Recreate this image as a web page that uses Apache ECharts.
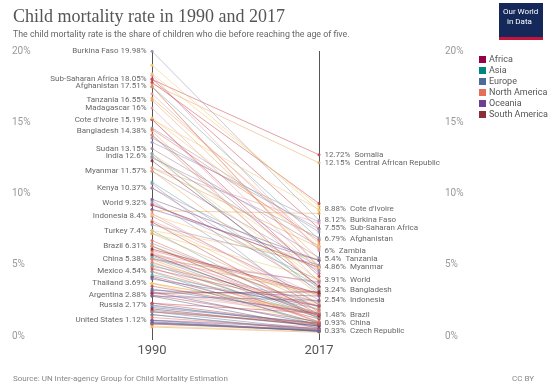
<!DOCTYPE html>
<html><head><meta charset="utf-8">
<script src="https://cdn.jsdelivr.net/npm/echarts@6/dist/echarts.min.js"></script>
<style>html,body{margin:0;padding:0;background:#fff}#c{width:549px;height:388px}</style>
</head><body><div id="c"></div>
<script>
const years = ["1990", "2017"];
const yTicks = [0, 5, 10, 15, 20];
const continents = ["Africa", "Asia", "Europe", "North America", "Oceania", "South America"];
const continentColors = ["#970046", "#00847E", "#4C6A9C", "#E56E5A", "#6D3E91", "#883039"];

const countries = ["Burkina Faso","Sub-Saharan Africa","Afghanistan","Tanzania","Madagascar","Cote d'Ivoire","Bangladesh","Sudan","India","Myanmar","Kenya","World","Indonesia","Turkey","Brazil","China","Mexico","Thailand","Argentina","Russia","United States","Somalia","Central African Republic","Zambia","Czech Republic",
"Ghana","Senegal","Togo","Benin","Uganda","Rwanda","Democratic Republic of Congo","Congo","Cameroon","Gabon","Lesotho","South Africa","Namibia","Botswana","Zimbabwe","Eritrea","Djibouti","Egypt","Morocco","Algeria","Tunisia","Libya","Gambia","Mauritania","Equatorial Guinea","Sao Tome and Principe","Comoros","Mauritius","Cape Verde","Burundi","Eswatini",
"Pakistan","Nepal","Bhutan","Cambodia","Laos","Yemen","Iraq","Iran","Vietnam","Philippines","Mongolia","Timor","Tajikistan","Uzbekistan","Turkmenistan","Kyrgyzstan","Kazakhstan","Saudi Arabia","Syria","Jordan","Sri Lanka","Malaysia","North Korea","Japan","South Korea","Azerbaijan","Georgia","Armenia",
"Germany","France","United Kingdom","Italy","Spain","Poland","Romania","Ukraine","Bulgaria","Albania","Moldova","Belarus","Serbia",
"Canada","Guatemala","Haiti","Honduras","Nicaragua","El Salvador","Dominican Republic","Panama","Cuba","Jamaica","Costa Rica",
"Papua New Guinea","Australia","New Zealand","Fiji","Solomon Islands","Vanuatu","Kiribati",
"Bolivia","Peru","Ecuador","Colombia","Venezuela","Paraguay","Chile","Uruguay","Guyana"];

const continentOf = ["Africa","Africa","Asia","Africa","Africa","Africa","Asia","Africa","Asia","Asia","Africa","World","Asia","Asia","South America","Asia","North America","Asia","South America","Europe","North America","Africa","Africa","Africa","Europe",
"Africa","Africa","Africa","Africa","Africa","Africa","Africa","Africa","Africa","Africa","Africa","Africa","Africa","Africa","Africa","Africa","Africa","Africa","Africa","Africa","Africa","Africa","Africa","Africa","Africa","Africa","Africa","Africa","Africa","Africa","Africa",
"Asia","Asia","Asia","Asia","Asia","Asia","Asia","Asia","Asia","Asia","Asia","Asia","Asia","Asia","Asia","Asia","Asia","Asia","Asia","Asia","Asia","Asia","Asia","Asia","Asia","Asia","Asia","Asia",
"Europe","Europe","Europe","Europe","Europe","Europe","Europe","Europe","Europe","Europe","Europe","Europe","Europe",
"North America","North America","North America","North America","North America","North America","North America","North America","North America","North America","North America",
"Oceania","Oceania","Oceania","Oceania","Oceania","Oceania","Oceania",
"South America","South America","South America","South America","South America","South America","South America","South America","South America"];

const rate1990 = [19.98,18.05,17.51,16.55,16.0,15.19,14.38,13.15,12.6,11.57,10.37,9.32,8.4,7.4,6.31,5.38,4.54,3.69,2.88,2.17,1.12,18.0,17.7,18.3,1.5,
12.8,14.1,14.6,17.8,17.5,15.2,18.4,9.2,13.6,9.2,8.8,5.7,7.2,5.4,7.8,15.2,11.8,8.6,8.0,4.9,5.5,4.2,16.7,11.8,19.0,10.4,12.5,2.3,6.3,17.0,7.4,
13.9,14.1,12.8,11.6,15.3,12.6,5.4,5.6,5.1,5.7,10.7,17.5,10.8,7.2,8.5,6.5,5.2,4.5,3.7,3.7,2.1,1.7,4.3,0.63,0.7,9.5,4.8,5.0,
0.85,0.9,0.93,1.0,1.1,1.7,3.1,2.0,1.8,4.1,3.3,1.5,2.8,
0.83,8.1,14.5,5.8,6.7,5.9,6.0,3.1,1.3,3.0,1.7,
8.9,0.92,1.1,2.8,4.0,3.2,9.6,
12.3,8.0,5.7,3.5,3.0,4.7,1.9,2.3,6.1];

const rate2017 = [8.12,7.55,6.79,5.4,4.6,8.88,3.24,6.3,3.9,4.86,4.6,3.91,2.54,1.2,1.48,0.93,1.34,0.9,1.0,0.72,0.66,12.72,12.15,6.0,0.33,
4.9,4.4,7.3,9.3,4.9,3.8,9.1,4.8,8.0,4.8,8.6,3.7,4.0,3.8,5.0,4.2,6.2,2.2,2.3,2.4,1.3,1.2,6.5,7.9,8.8,3.2,6.9,1.6,2.1,6.1,5.4,
7.5,3.4,3.0,2.9,6.3,5.5,3.0,1.5,2.1,2.8,1.6,4.8,3.4,2.2,4.8,2.0,1.0,0.7,1.7,1.6,0.9,0.8,1.9,0.26,0.3,2.2,1.0,1.3,
0.37,0.4,0.43,0.33,0.32,0.45,0.8,0.9,0.7,0.9,1.6,0.4,0.55,
0.5,2.8,6.7,1.8,1.8,1.5,2.9,1.6,0.5,1.5,0.9,
5.3,0.35,0.55,2.5,2.1,2.8,5.3,
3.5,1.5,1.4,1.5,3.1,2.1,0.7,0.8,3.0];

const labelled1990 = ["Burkina Faso","Sub-Saharan Africa","Afghanistan","Tanzania","Madagascar","Cote d'Ivoire","Bangladesh","Sudan","India","Myanmar","Kenya","World","Indonesia","Turkey","Brazil","China","Mexico","Thailand","Argentina","Russia","United States"];
const labelled2017 = ["Somalia","Central African Republic","Cote d'Ivoire","Burkina Faso","Sub-Saharan Africa","Afghanistan","Zambia","Tanzania","Myanmar","World","Bangladesh","Indonesia","Brazil","China","Czech Republic"];

const linePalettes = {
  "Africa": ["#9a8fae", "#c9424e", "#e9a35c", "#e39aa8", "#f0c870", "#a77aa0"],
  "Asia": ["#6aa7a5", "#e9a35c", "#f0c870", "#9a8fae", "#d98a7a"],
  "Europe": ["#4c6a9c", "#6a7fa8", "#5a5f80"],
  "North America": ["#e56e5a", "#e39aa8"],
  "Oceania": ["#7c5d9b"],
  "South America": ["#883039", "#c0505a"],
  "World": ["#9a8fae"]
};
const counters = {};

const series = countries.map((name, i) => {
  const cont = continentOf[i];
  const pal = linePalettes[cont];
  counters[cont] = (counters[cont] || 0);
  const color = pal[counters[cont] % pal.length];
  counters[cont]++;
  const lab = '#555';
  return {
    type: 'line', name: name, silent: true, z: 2,
    symbol: 'circle', symbolSize: 3, showSymbol: true,
    lineStyle: { width: 1, color: color, opacity: 0.5 },
    itemStyle: { color: color, opacity: 0.9 },
    emphasis: { disabled: true },
    data: [
      { value: rate1990[i], label: { show: labelled1990.includes(name), position: 'left', distance: 4, color: lab, fontSize: 8, fontFamily: 'Roboto',
        formatter: () => name + ' ' + rate1990[i] + '%' } },
      { value: rate2017[i], label: { show: labelled2017.includes(name), position: 'right', distance: 4, color: lab, fontSize: 8, fontFamily: 'Roboto',
        formatter: () => rate2017[i] + '%  ' + name } }
    ]
  };
});

// legend-only series
continents.forEach((c, k) => {
  series.push({ type: 'line', name: c, data: [], itemStyle: { color: continentColors[k] }, lineStyle: { color: continentColors[k] } });
});

const chart = echarts.init(document.getElementById('c'), null, { renderer: 'canvas' });
chart.setOption({
  animation: false,
  backgroundColor: '#fff',
  textStyle: { fontFamily: 'Roboto' },
  title: [
    { text: 'Child mortality rate in 1990 and 2017', left: 8, top: 3,
      textStyle: { fontFamily: 'Liberation Serif', fontWeight: 'normal', fontSize: 18, color: '#555' } },
    { text: 'The child mortality rate is the share of children who die before reaching the age of five.', left: 8, top: 25,
      textStyle: { fontFamily: 'Roboto', fontWeight: 'normal', fontSize: 8.8, color: '#666' } },
    { text: 'Source: UN Inter-agency Group for Child Mortality Estimation', left: 8, top: 370,
      textStyle: { fontFamily: 'Roboto', fontWeight: 'normal', fontSize: 8, color: '#888' } },
    { text: 'CC BY', right: 10, top: 370,
      textStyle: { fontFamily: 'Roboto', fontWeight: 'normal', fontSize: 8, color: '#888' } }
  ],
  legend: {
    data: continents, orient: 'vertical', left: 474, top: 50, itemGap: 2,
    icon: 'rect', itemWidth: 7, itemHeight: 7,
    textStyle: { fontSize: 9, color: '#555', fontFamily: 'Roboto', padding: [0, 0, 0, -2] },
    selectedMode: false
  },
  graphic: [
    { type: 'rect', left: 499, top: 3, shape: { width: 44, height: 34 }, style: { fill: '#14295a' } },
    { type: 'rect', left: 499, top: 37, shape: { width: 44, height: 3 }, style: { fill: '#c5143c' } },
    { type: 'text', left: 503, top: 7, style: { text: 'Our World\n  in Data', fill: '#fff', font: '8px Roboto', lineHeight: 10 } }
  ],
  grid: { left: 152, right: 230, top: 51, bottom: 52 },
  xAxis: {
    type: 'category', data: years, boundaryGap: false,
    axisLine: { show: false }, axisTick: { show: true, length: 4, lineStyle: { color: '#555' } },
    axisLabel: { fontSize: 13, color: '#555', margin: 8, fontFamily: 'Roboto' },
    splitLine: { show: true, lineStyle: { color: '#555', width: 1 } }
  },
  yAxis: [
    { type: 'value', min: 0, max: 20, interval: 5, position: 'left',
      axisLabel: { formatter: v => yTicks.includes(v) ? v + '%' : '', align: 'left', margin: 140, fontSize: 10, color: '#999' },
      axisLine: { show: false }, axisTick: { show: false }, splitLine: { show: false } },
    { type: 'value', min: 0, max: 20, interval: 5, position: 'right',
      axisLabel: { formatter: v => yTicks.includes(v) ? v + '%' : '', align: 'left', margin: 126, fontSize: 10, color: '#999' },
      axisLine: { show: false }, axisTick: { show: false }, splitLine: { show: false } }
  ],
  series: series
});
</script></body></html>
